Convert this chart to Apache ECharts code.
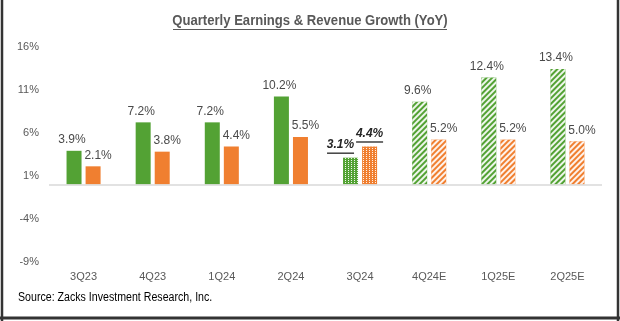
<!DOCTYPE html>
<html><head><meta charset="utf-8">
<script src="https://cdn.jsdelivr.net/npm/echarts@6/dist/echarts.min.js"></script>
<style>html,body{margin:0;padding:0;background:#fff}#c{width:620px;height:321px}</style>
</head><body><div id="c"></div>
<script>
const categories = ['3Q23','4Q23','1Q24','2Q24','3Q24','4Q24E','1Q25E','2Q25E'];
const earningsGrowth = [3.9, 7.2, 7.2, 10.2, 3.1, 9.6, 12.4, 13.4];
const revenueGrowth = [2.1, 3.8, 4.4, 5.5, 4.4, 5.2, 5.2, 5.0];
// A = actual, R = latest reported (partial), E = estimate
const periodType = ['A','A','A','A','R','E','E','E'];
const yTicks = [-9, -4, 1, 6, 11, 16];

const GREEN = '#53a234', ORANGE = '#f07f30';
const hatch = {symbol:'rect', symbolSize:1, color:'rgba(255,255,255,0.9)', dashArrayX:[1,0], dashArrayY:[1.4,1.4], rotation: -Math.PI/4};
const dots = {symbol:'rect', symbolSize:1, color:'rgba(255,255,255,0.9)', dashArrayX:[1,2], dashArrayY:[1,1], rotation:0};

function build(vals, color, isGreen){
  return vals.map((v,i)=>{
    const t = periodType[i];
    const item = {value:v, itemStyle:{color:color}};
    if (t==='E') item.itemStyle.decal = hatch;
    if (t==='R') {
      item.itemStyle.decal = dots;
      item.label = {formatter: '{b|'+v.toFixed(1)+'%}\n{u|}', offset: isGreen?[-10,0]:[0,0], distance:3};
    }
    return item;
  });
}
const labelRich = {
  b:{fontFamily:'Liberation Sans', fontSize:12, fontWeight:'bold', fontStyle:'italic', color:'#262626', lineHeight:14},
  u:{width:27, height:1.5, backgroundColor:'#404040', lineHeight:3}
};

const chart = echarts.init(document.getElementById('c'), null, {renderer:'canvas'});
chart.setOption({
  animation:false,
  backgroundColor:'#fff',
  grid:{left:49, right:18, top:46.5, bottom:59},
  xAxis:{type:'category', data:categories,
    axisLine:{show:false}, axisTick:{show:false},
    axisLabel:{color:'#595959', fontFamily:'Liberation Sans', fontSize:11, margin:9}},
  yAxis:{type:'value', min:yTicks[0], max:yTicks[yTicks.length-1], interval:yTicks[1]-yTicks[0],
    splitLine:{show:false}, axisLine:{show:false}, axisTick:{show:false},
    axisLabel:{color:'#595959', fontFamily:'Liberation Sans', fontSize:11, margin:10, formatter:'{value}%'}},
  series:[
    {type:'bar', name:'Earnings', data:build(earningsGrowth, GREEN, true), barWidth:15, barGap:'27%',
     label:{show:true, position:'top', distance:5, offset:[-2,0], color:'#4a4a4a', fontFamily:'Liberation Sans', fontSize:12,
       formatter:p=>p.value.toFixed(1)+'%', rich:labelRich},
     markLine:{silent:true, symbol:'none', label:{show:false}, lineStyle:{color:'#d9d9d9', width:1.5, type:'solid'}, data:[{yAxis:0}]}},
    {type:'bar', name:'Revenue', data:build(revenueGrowth, ORANGE, false), barWidth:15,
     label:{show:true, position:'top', distance:5, offset:[5,0], color:'#4a4a4a', fontFamily:'Liberation Sans', fontSize:12,
       formatter:p=>p.value.toFixed(1)+'%', rich:labelRich}}
  ],
  graphic:[
    {type:'text', x:310, y:21, scaleX:0.935, originX:0, style:{text:'Quarterly Earnings & Revenue Growth (YoY)', fontFamily:'Liberation Sans', fontWeight:'bold', fontSize:14, fill:'#595959', align:'center', verticalAlign:'middle'}},
    {type:'line', shape:{x1:173,y1:29.5,x2:447,y2:29.5}, style:{stroke:'#595959', lineWidth:1.2}},
    {type:'text', x:18, y:298, scaleX:0.85, style:{text:'Source: Zacks Investment Research, Inc.', fontFamily:'Liberation Sans', fontSize:12.5, fill:'#000', verticalAlign:'middle'}},
    {type:'line', shape:{x1:2,y1:0,x2:2,y2:321}, style:{stroke:'#333', lineWidth:2.5}},
    {type:'line', shape:{x1:618,y1:0,x2:618,y2:321}, style:{stroke:'#333', lineWidth:2.5}},
    {type:'line', shape:{x1:0,y1:318,x2:620,y2:318}, style:{stroke:'#333', lineWidth:3}}
  ]
});
</script></body></html>
